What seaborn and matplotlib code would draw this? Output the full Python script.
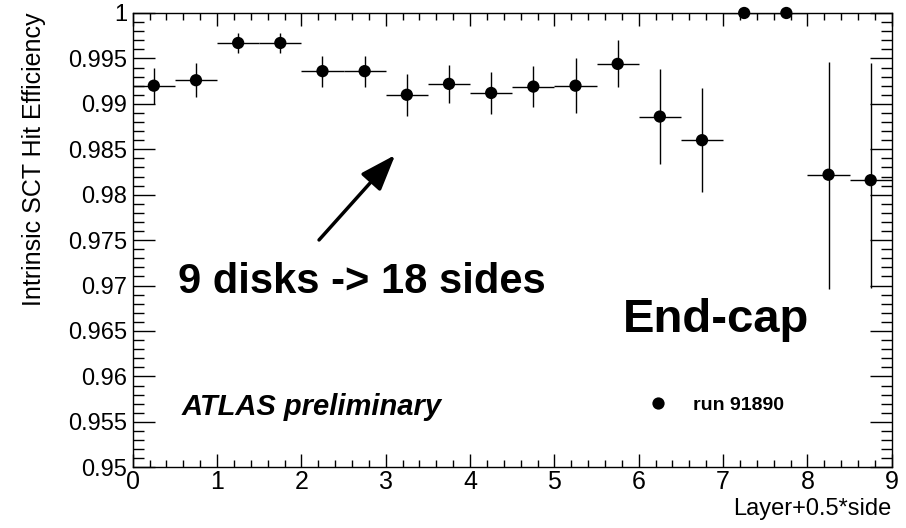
import numpy as np
import pandas as pd
import matplotlib
matplotlib.use("Agg")
import matplotlib.pyplot as plt
from matplotlib.ticker import MultipleLocator, FuncFormatter
import seaborn as sns

# ---- data ----
layer_side = [0.25, 0.75, 1.25, 1.75, 2.25, 2.75, 3.25, 3.75, 4.25,
              4.75, 5.25, 5.75, 6.25, 6.75, 7.25, 7.75, 8.25, 8.75]
efficiency = [0.9920, 0.9926, 0.9967, 0.9967, 0.9936, 0.9936, 0.9910, 0.9922, 0.9912,
              0.9919, 0.9920, 0.9944, 0.9886, 0.9860, 1.0000, 1.0000, 0.9822, 0.9816]
err_low = [0.0020, 0.0019, 0.0011, 0.0011, 0.0017, 0.0017, 0.0023, 0.0021, 0.0023,
           0.0023, 0.0030, 0.0026, 0.0052, 0.0057, 0.0, 0.0, 0.0126, 0.0119]
err_high = [0.0020, 0.0019, 0.0011, 0.0011, 0.0017, 0.0017, 0.0023, 0.0021, 0.0023,
            0.0023, 0.0030, 0.0026, 0.0052, 0.0057, 0.0, 0.0, 0.0124, 0.0129]
bin_half_width = 0.25
series_label = "run 91890"

df = pd.DataFrame({"x": layer_side, "eff": efficiency, "run": series_label})

sns.set_theme(style="white")
plt.rcParams["font.family"] = ["Liberation Sans", "DejaVu Sans"]
plt.rcParams.update({"text.color": "black", "axes.labelcolor": "black",
                     "xtick.color": "black", "ytick.color": "black",
                     "axes.edgecolor": "black"})

fig = plt.figure(figsize=(9.06, 5.28), dpi=100)
ax = fig.add_axes([0.1465, 0.1150, 0.8378, 0.8604])

ax.errorbar(df["x"], df["eff"], xerr=bin_half_width, yerr=[err_low, err_high],
            fmt="none", ecolor="black", elinewidth=1.0, capsize=0, zorder=2)
sns.scatterplot(data=df, x="x", y="eff", hue="run", palette=["black"], s=78,
                edgecolor="none", linewidth=0, ax=ax, zorder=3, clip_on=False)

ax.set_xlim(0, 9)
ax.set_ylim(0.95, 1.0)

ax.xaxis.set_major_locator(MultipleLocator(1))
ax.xaxis.set_minor_locator(MultipleLocator(0.2))
ax.yaxis.set_major_locator(MultipleLocator(0.005))
ax.yaxis.set_minor_locator(MultipleLocator(0.001))

def yfmt(v, pos):
    s = f"{v:.3f}".rstrip("0").rstrip(".")
    return s
ax.yaxis.set_major_formatter(FuncFormatter(yfmt))

for sp in ax.spines.values():
    sp.set_color("black")
    sp.set_linewidth(1.0)

ax.tick_params(which="both", direction="in", top=True, right=True, bottom=True, left=True,
               color="black", labelcolor="black", width=1.0)
ax.tick_params(axis="x", which="major", length=9.4, labelsize=18, pad=2)
ax.tick_params(axis="x", which="minor", length=5.0)
ax.tick_params(axis="y", which="major", length=15.8, labelsize=17, pad=4)
ax.tick_params(axis="y", which="minor", length=7.9)

ax.set_xlabel("Layer+0.5*side", fontsize=17, loc="right", color="black")
ax.set_ylabel("Intrinsic SCT Hit Efficiency", fontsize=18, loc="top", color="black")
ax.xaxis.set_label_coords(1.0, -0.068)
ax.yaxis.set_label_coords(-0.114, 1.0)

ax.text(0.537, 0.96918, "9 disks -> 18 sides", fontsize=30, fontweight="bold",
        ha="left", va="baseline", color="black")
ax.text(5.807, 0.96492, "End-cap", fontsize=34, fontweight="bold",
        ha="left", va="baseline", color="black")
ax.text(0.581, 0.95576, "ATLAS preliminary", fontsize=21, fontweight="bold",
        fontstyle="italic", ha="left", va="baseline", color="black")

ax.annotate("", xy=(3.112, 0.98437), xytext=(2.209, 0.97502),
            arrowprops=dict(arrowstyle="-|>,head_length=1.1,head_width=0.4",
                            lw=2.5, color="black", shrinkA=0, shrinkB=0,
                            mutation_scale=20))

leg = ax.legend(loc="center left", bbox_to_anchor=(0.644, 0.136), frameon=False,
                fontsize=14, handletextpad=0.75, markerscale=1.0, title=None)
for t in leg.get_texts():
    t.set_fontweight("bold")
    t.set_color("black")

fig.savefig("out.png", dpi=100)
